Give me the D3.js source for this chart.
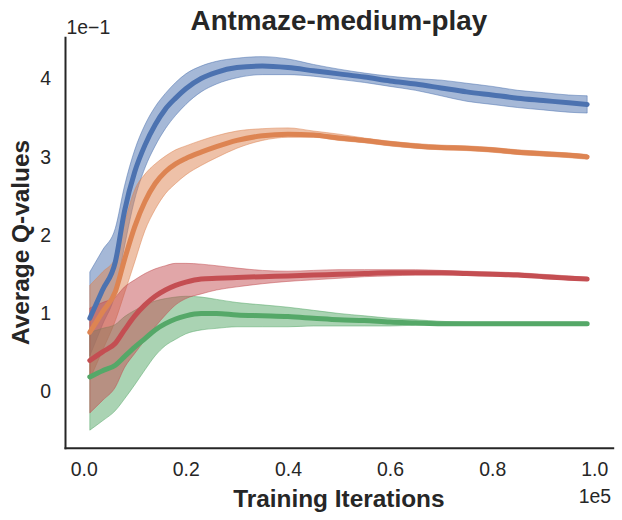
<!DOCTYPE html>
<html>
<head>
<meta charset="utf-8">
<script src="https://cdn.jsdelivr.net/npm/d3@7/dist/d3.min.js"></script>
<style>
  html, body { margin: 0; padding: 0; background: #ffffff; }
  svg { display: block; }
  text { font-family: "Liberation Sans", Arial, sans-serif; fill: #262626; }
</style>
</head>
<body>
<svg id="chart" width="622" height="520"></svg>
<script>
// ---- data (x: training iterations, y: average Q-values) ----
const iterations = [1200, 3700, 6200, 8000, 10000, 12000, 14000, 16000, 18000, 20000, 23000, 26000, 30000, 35000, 40000, 45000, 50000, 55000, 60000, 65000, 70000, 75000, 80000, 85000, 90000, 95000, 98600];

const blueMean = [0.093,0.129,0.165,0.230,0.280,0.314,0.340,0.360,0.374,0.386,0.399,0.407,0.413,0.415,0.413,0.409,0.405,0.401,0.396,0.392,0.387,0.382,0.378,0.374,0.371,0.368,0.366];
const blueLow  = [0.045,0.085,0.125,0.185,0.245,0.285,0.313,0.335,0.352,0.366,0.382,0.392,0.400,0.404,0.404,0.402,0.398,0.394,0.389,0.384,0.377,0.370,0.366,0.362,0.359,0.356,0.355];
const blueHigh = [0.152,0.180,0.208,0.262,0.308,0.340,0.363,0.380,0.394,0.405,0.415,0.421,0.425,0.427,0.424,0.417,0.411,0.406,0.402,0.399,0.397,0.393,0.389,0.384,0.381,0.378,0.377];

const orangeMean = [0.075,0.101,0.127,0.168,0.210,0.242,0.265,0.280,0.290,0.297,0.305,0.312,0.320,0.326,0.328,0.327,0.323,0.320,0.316,0.313,0.311,0.310,0.308,0.305,0.303,0.301,0.299];
const orangeLow  = [0.015,0.052,0.090,0.125,0.165,0.205,0.232,0.252,0.265,0.276,0.288,0.298,0.310,0.320,0.324,0.324,0.320,0.317,0.313,0.310,0.308,0.307,0.305,0.302,0.300,0.298,0.296];
const orangeHigh = [0.135,0.152,0.170,0.215,0.257,0.277,0.290,0.300,0.308,0.313,0.320,0.326,0.332,0.335,0.336,0.332,0.328,0.323,0.319,0.316,0.314,0.313,0.311,0.308,0.306,0.304,0.302];

const greenMean = [0.018,0.026,0.033,0.044,0.056,0.067,0.078,0.086,0.092,0.096,0.099,0.099,0.097,0.096,0.095,0.093,0.091,0.090,0.088,0.087,0.086,0.086,0.086,0.086,0.086,0.086,0.086];
const greenLow  = [-0.050,-0.038,-0.025,-0.010,0.008,0.027,0.045,0.058,0.066,0.073,0.078,0.080,0.082,0.082,0.082,0.083,0.083,0.083,0.083,0.084,0.084,0.084,0.084,0.084,0.084,0.084,0.084];
const greenHigh = [0.075,0.080,0.085,0.095,0.103,0.110,0.115,0.118,0.120,0.121,0.120,0.117,0.113,0.110,0.107,0.103,0.099,0.096,0.093,0.091,0.089,0.088,0.088,0.088,0.088,0.088,0.088];

const redMean = [0.039,0.050,0.061,0.078,0.096,0.110,0.121,0.129,0.135,0.139,0.143,0.144,0.145,0.146,0.147,0.148,0.149,0.150,0.151,0.151,0.151,0.150,0.149,0.148,0.146,0.144,0.143];
const redLow  = [-0.028,-0.012,0.005,0.030,0.048,0.065,0.082,0.097,0.110,0.118,0.124,0.129,0.133,0.137,0.140,0.142,0.144,0.146,0.147,0.148,0.148,0.148,0.147,0.146,0.144,0.142,0.141];
const redHigh = [0.106,0.113,0.120,0.133,0.142,0.150,0.156,0.160,0.163,0.163,0.162,0.160,0.157,0.154,0.153,0.154,0.155,0.155,0.155,0.155,0.154,0.153,0.152,0.151,0.149,0.147,0.145];

const seriesNames  = ["blue", "orange", "green", "red"];
const seriesColors = ["#4C72B0", "#DD8452", "#55A868", "#C44E52"];
const xTickValues = [0, 20000, 40000, 60000, 80000, 100000];
const xTickLabels = ["0.0", "0.2", "0.4", "0.6", "0.8", "1.0"];
const yTickValues = [0, 0.1, 0.2, 0.3, 0.4];
const yTickLabels = ["0", "1", "2", "3", "4"];

const series = [
  {mean: blueMean, low: blueLow, high: blueHigh},
  {mean: orangeMean, low: orangeLow, high: orangeHigh},
  {mean: greenMean, low: greenLow, high: greenHigh},
  {mean: redMean, low: redLow, high: redHigh}
].map((s, i) => ({
  name: seriesNames[i],
  color: seriesColors[i],
  pts: iterations.map((it, j) => ({x: it, m: s.mean[j], lo: s.low[j], hi: s.high[j]}))
}));

// ---- layout ----
const plotLeft = 65, plotRight = 612.7, plotTop = 37.3, plotBottom = 447.7;

const x = d3.scaleLinear()
  .domain([-3660, 103600])
  .range([plotLeft, plotRight]);
const y = d3.scaleLinear()
  .domain([-0.0724, 0.4517])
  .range([plotBottom, plotTop]);

const svg = d3.select("#chart");

const clipId = "plotclip";
svg.append("defs").append("clipPath").attr("id", clipId)
  .append("rect").attr("x", plotLeft).attr("y", plotTop)
  .attr("width", plotRight - plotLeft).attr("height", plotBottom - plotTop);

const plot = svg.append("g").attr("clip-path", `url(#${clipId})`);

const curve = d3.curveMonotoneX;
const area = d3.area().x(d => x(d.x)).y0(d => y(d.lo)).y1(d => y(d.hi)).curve(curve);
const line = d3.line().x(d => x(d.x)).y(d => y(d.m)).curve(curve);

// bands
plot.selectAll("path.band").data(series).join("path")
  .attr("class", "band")
  .attr("d", d => area(d.pts))
  .attr("fill", d => d.color)
  .attr("fill-opacity", 0.5)
  .attr("stroke", d => d.color)
  .attr("stroke-opacity", 0.5)
  .attr("stroke-width", 1);

// mean lines
plot.selectAll("path.mean").data(series).join("path")
  .attr("class", "mean")
  .attr("d", d => line(d.pts))
  .attr("fill", "none")
  .attr("stroke", d => d.color)
  .attr("stroke-width", 5)
  .attr("stroke-linecap", "round")
  .attr("stroke-linejoin", "round");

// axes (seaborn white style, despined)
const xAxis = d3.axisBottom(x).tickValues(xTickValues)
  .tickFormat((d, i) => xTickLabels[i]).tickSize(0).tickPadding(15);
const yAxis = d3.axisLeft(y).tickValues(yTickValues)
  .tickFormat((d, i) => yTickLabels[i]).tickSize(0).tickPadding(14);

const gx = svg.append("g").attr("transform", `translate(0,${plotBottom})`).call(xAxis);
const gy = svg.append("g").attr("transform", `translate(${plotLeft},0)`).call(yAxis);

[gx, gy].forEach(g => {
  g.select(".domain").attr("stroke", "#262626").attr("stroke-width", 2).attr("stroke-linecap", "square");
  g.selectAll(".tick text").attr("font-size", "19.4px").attr("fill", "#262626")
    .attr("font-family", "Liberation Sans, Arial, sans-serif");
});
gx.selectAll(".tick text").attr("dy", "0.71em");
gy.selectAll(".tick text").attr("dy", "0.36em");

// offset texts
svg.append("text").attr("x", 66.5).attr("y", 34.3)
  .attr("font-size", "19.4px").text("1e\u22121");
svg.append("text").attr("x", 611).attr("y", 503.3).attr("text-anchor", "end")
  .attr("font-size", "19.4px").text("1e5");

// title and labels
svg.append("text").attr("x", (plotLeft + plotRight) / 2).attr("y", 30)
  .attr("text-anchor", "middle").attr("font-size", "27.8px").attr("font-weight", "bold")
  .text("Antmaze-medium-play");
svg.append("text").attr("x", (plotLeft + plotRight) / 2).attr("y", 506.8)
  .attr("text-anchor", "middle").attr("font-size", "24.4px").attr("font-weight", "bold")
  .text("Training Iterations");
svg.append("text")
  .attr("transform", `translate(29,${(plotTop + plotBottom) / 2}) rotate(-90)`)
  .attr("text-anchor", "middle").attr("font-size", "24.4px").attr("font-weight", "bold")
  .text("Average Q-values");
</script>
</body>
</html>
